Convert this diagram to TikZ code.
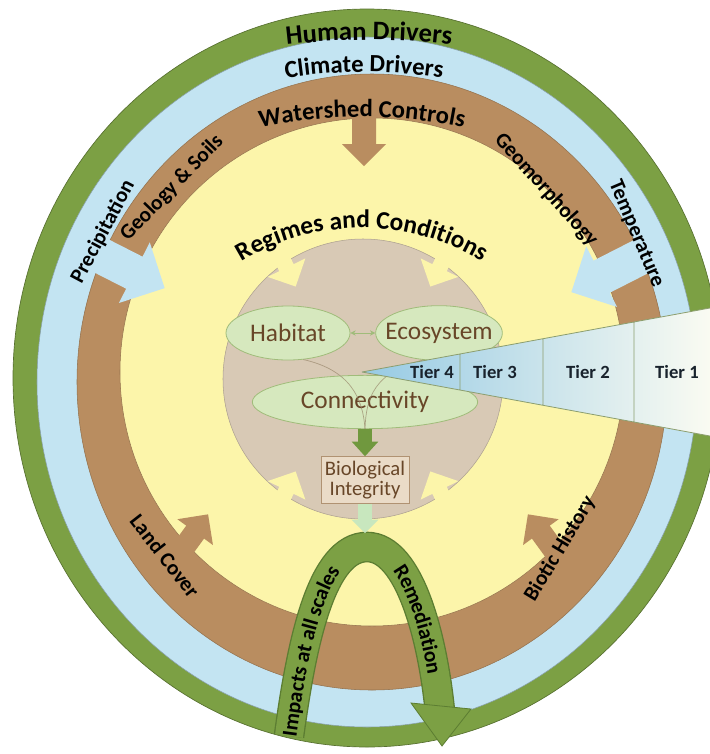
\documentclass[tikz,border=0pt]{standalone}
\usepackage{fontspec}
\setmainfont{Carlito}
\usetikzlibrary{shapes.geometric,arrows.meta,decorations.text}

\definecolor{humangreen}{RGB}{124,160,68}
\definecolor{archedge}{RGB}{92,125,50}
\definecolor{climateblue}{RGB}{195,228,242}
\definecolor{shedbrown}{RGB}{185,141,96}
\definecolor{regimeyellow}{RGB}{252,245,170}
\definecolor{coretan}{RGB}{216,201,181}
\definecolor{ovalgreen}{RGB}{214,232,190}
\definecolor{ovaledge}{RGB}{160,188,122}
\definecolor{inkbrown}{RGB}{104,70,40}
\definecolor{flowgreen}{RGB}{112,152,62}
\definecolor{palegreen}{RGB}{200,231,190}
\definecolor{boxtan}{RGB}{234,219,199}
\definecolor{boxedge}{RGB}{176,146,114}
\definecolor{tierblue}{RGB}{150,202,228}
\definecolor{tierwhite}{RGB}{250,251,242}
\definecolor{tieredge}{RGB}{140,158,110}

\tikzset{every picture/.style={line width=0.75pt}}
\tikzset{
  ringlabel/.style={font=\bfseries\fontsize{16}{18}\selectfont, text=black, inner sep=0pt},
  oval/.style={ellipse, draw=ovaledge, fill=ovalgreen, line width=0.6pt, text=inkbrown, font=\fontsize{19}{22}\selectfont, inner sep=0pt, inner xsep=-18pt},
  bioframe/.style={rectangle, draw=boxedge, fill=boxtan, line width=0.6pt, text=inkbrown, align=center, font=\fontsize{15.5}{15}\selectfont, minimum width=66pt, minimum height=35pt, inner sep=1pt},
  tierlabel/.style={font=\bfseries\fontsize{14}{16}\selectfont, text={rgb,255:red,25;green,35;blue,45}},
  flowarrow/.style={draw=flowgreen, line width=10pt, -{Triangle[width=20pt,length=11pt,line width=0pt]}},
  softarrow/.style={draw=palegreen, line width=10pt, -{Triangle[width=20pt,length=10pt,line width=0pt]}},
  linkline/.style={draw={rgb,255:red,150;green,132;blue,104}, draw opacity=0.7, line width=0.5pt},
  pairarrow/.style={draw=ovaledge, line width=0.7pt, {Stealth[length=4pt,width=4pt]}-{Stealth[length=4pt,width=4pt]}},
}

% block arrow: style, tail, angle, length, half shaft, half head
\newcommand{\blockarrow}[6]{%
  \begin{scope}[shift={#2}, rotate=#3]
    \path[#1] (0,-#5) -- ({#4-#6},-#5) -- ({#4-#6},-#6) -- (#4,0) -- ({#4-#6},#6) -- ({#4-#6},#5) -- (0,#5) -- cycle;
  \end{scope}}

\begin{document}
\begin{tikzpicture}[x=0.75pt,y=0.75pt,yscale=-1,xscale=1]
\useasboundingbox (0,0) rectangle (710,754);

% rings
\filldraw[fill=humangreen, draw=humangreen!70!black, line width=0.5pt] (367,378) ellipse [x radius=354, y radius=369];
\filldraw[fill=climateblue, draw=climateblue!70!black, line width=0.4pt] (367,382) ellipse [x radius=330, y radius=345];
\filldraw[fill=shedbrown, draw=shedbrown!80!black, line width=0.4pt] (372,382) ellipse [x radius=295, y radius=308];
\filldraw[fill=regimeyellow, draw=shedbrown!80!black, line width=0.4pt] (372,372) ellipse [x radius=252, y radius=254];

% climate arrows
\blockarrow{fill=climateblue}{(80,245)}{27}{95}{18}{34}
\blockarrow{fill=climateblue}{(656,249)}{153}{95}{18}{34}

% watershed arrows
\blockarrow{fill=shedbrown}{(364,96)}{90}{70}{12}{22}
\blockarrow{fill=shedbrown}{(164,575)}{-54}{75}{11}{22}
\blockarrow{fill=shedbrown}{(572,575)}{-126}{75}{11}{22}

% core with inward notches
\filldraw[fill=coretan, draw=coretan!80!black, line width=0.4pt] (363,379) circle [radius=140];
\blockarrow{fill=regimeyellow}{(272,238)}{64}{54}{8}{21}
\blockarrow{fill=regimeyellow}{(454,238)}{116}{54}{8}{21}
\blockarrow{fill=regimeyellow}{(272,520)}{-64}{54}{8}{21}
\blockarrow{fill=regimeyellow}{(454,520)}{-116}{54}{8}{21}

% impacts / remediation loop
\draw[archedge, line width=23pt] (289,736) .. controls (302,640) and (322,547) .. (367,547) .. controls (410,547) and (433,640) .. (440,712);
\draw[humangreen, line width=21pt] (289,736) .. controls (302,640) and (322,547) .. (367,547) .. controls (410,547) and (433,640) .. (440,712);
\filldraw[fill=humangreen, draw=archedge, line width=0.6pt] (411,703) -- (471,709) -- (442,746) -- cycle;
\coordinate (looptop) at (365,533);

% ovals
\node[oval, minimum width=93pt, minimum height=40.5pt] (habitat) at (288,333) {Habitat};
\node[oval, minimum width=95pt, minimum height=41pt] (ecosystem) at (439,333) {Ecosystem};
\node[oval, minimum width=169pt, minimum height=40pt] (connectivity) at (365,402) {Connectivity};
\node[bioframe] (bioint) at (365,480) {Biological\\Integrity};

\draw[pairarrow] (habitat) -- (ecosystem);
\draw[linkline] (habitat.-60) .. controls (350,370) and (363,398) .. (connectivity.south);
\draw[linkline] (ecosystem.-120) .. controls (374,372) and (366,398) .. (connectivity.south);
\draw[flowarrow] (connectivity.south) -- (bioint.north);
\draw[softarrow] (bioint.south) -- (looptop);

% tiers
\shade[left color=tierblue, right color=tierwhite] (362,372) -- (710,308) -- (710,436) -- cycle;
\draw[tieredge, line width=0.6pt] (362,372) -- (710,308) (362,372) -- (710,436) (460,354) -- (460,390) (543,338.7) -- (543,405.3) (634,322) -- (634,422);
\node[tierlabel] (tier4) at (432,372) {Tier 4};
\node[tierlabel] (tier3) at (495,372) {Tier 3};
\node[tierlabel] (tier2) at (588,372) {Tier 2};
\node[tierlabel] (tier1) at (677,372) {Tier 1};

% curved titles
\path[decorate, decoration={text along path, text align=center, text format delimiters={|}{|}, text={|\bfseries\fontsize{20}{24}\selectfont|Human Drivers}}] (369,740) ++(250:700) arc[start angle=250, end angle=290, radius=700];
\path[decorate, decoration={text along path, text align=center, text format delimiters={|}{|}, text={|\bfseries\fontsize{18.5}{22}\selectfont|Climate Drivers}}] (364,572) ++(245:500) arc[start angle=245, end angle=295, radius=500];
\path[decorate, decoration={text along path, text align=center, text format delimiters={|}{|}, text={|\bfseries\fontsize{18.5}{22}\selectfont|Watershed Controls}}] (362,617) ++(245:500) arc[start angle=245, end angle=295, radius=500];
\path[decorate, decoration={text along path, text align=center, text format delimiters={|}{|}, text={|\bfseries\fontsize{19}{22}\selectfont|Regimes and Conditions}}] (362,458) ++(220:230) arc[start angle=220, end angle=320, radius=230];

% ring labels
\node[ringlabel, rotate=62] (precip) at (103,232) {Precipitation};
\node[ringlabel, rotate=-67] (temp) at (636,234) {Temperature};
\node[ringlabel, rotate=46] (geology) at (172,188) {Geology \& Soils};
\node[ringlabel, rotate=-48] (geomorph) at (546,190) {Geomorphology};
\node[ringlabel, rotate=-52] (landcover) at (165,556) {Land Cover};
\node[ringlabel, rotate=59] (biotic) at (560,549) {Biotic History};

% loop labels
\path[decorate, decoration={text along path, text align=left, raise=-5.5pt, text format delimiters={|}{|}, text={|\bfseries\fontsize{16}{18}\selectfont|Impacts at all scales}}] (289,736) .. controls (302,640) and (322,547) .. (367,547);
\path[decorate, decoration={text along path, text align=center, raise=-5.5pt, text format delimiters={|}{|}, text={|\bfseries\fontsize{16}{18}\selectfont|Remediation}}] (367,547) .. controls (410,547) and (433,640) .. (440,712);

\end{tikzpicture}
\end{document}
